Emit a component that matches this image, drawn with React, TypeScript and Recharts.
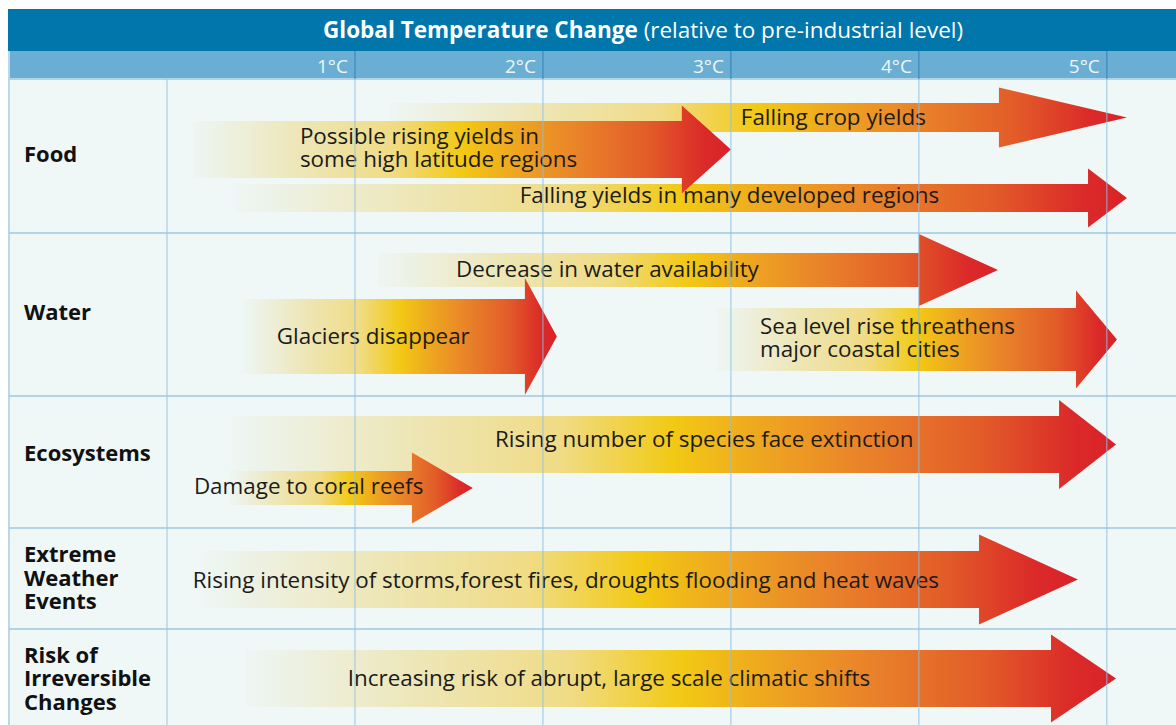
import React from 'react';
import { ComposedChart, XAxis, YAxis, ReferenceArea, ReferenceLine } from 'recharts';

const PAGE_W = 1176;
const PAGE_H = 725;
const OFFSET = 8;
const W = 1168;
const H = 717;
const DARK_TOP = 1;
const DARK_H = 42;
const BAND_H = 28;
const PLOT_TOP = DARK_TOP + DARK_H + BAND_H;
const LABEL_COL = 159;
const FONT = '"Open Sans", "Noto Sans", sans-serif';

// temperature axis (°C relative to pre-industrial)
const tempDomain: [number, number] = [0, 5.368];
const degreeTicks = [1, 2, 3, 4, 5];
const degreeLabels = ['1°C', '2°C', '3°C', '4°C', '5°C'];
const gridTemps = [0, 1, 2, 3, 4, 5];

// vertical lane axis (lane units from the top of the table body)
const laneDomain: [number, number] = [0, 646];
const rowNames = [
  ['Food'],
  ['Water'],
  ['Ecosystems'],
  ['Extreme', 'Weather', 'Events'],
  ['Risk of', 'Irreversible', 'Changes'],
];
const rowLabelLane = [76.5, 235, 376, 500.5, 601];
const rowBoundaryLane = [0, 154, 317, 449, 550];

// impact arrows, in drawing order
const impactText = [
  ['Falling crop yields'],
  ['Falling yields in many developed regions'],
  ['Possible rising yields in', 'some high latitude regions'],
  ['Decrease in water availability'],
  ['Glaciers disappear'],
  ['Sea level rise threathens', 'major coastal cities'],
  ['Rising number of species face extinction'],
  ['Damage to coral reefs'],
  ['Rising intensity of storms,forest fires, droughts flooding and heat waves'],
  ['Increasing risk of abrupt, large scale climatic shifts'],
];
const impactFrom = [1.191, 0.366, 0.138, 1.122, 0.404, 2.926, 0.345, 0.329, 0.196, 0.425];
const impactHeadAt = [4.426, 4.9, 2.739, 4.0, 1.904, 4.836, 4.746, 1.303, 4.32, 4.703];
const impactTo = [5.107, 5.107, 3.0, 4.421, 2.074, 5.054, 5.049, 1.627, 4.846, 5.049];
const impactTextAt = [3.053, 1.877, 0.707, 1.537, 0.584, 3.155, 1.745, 0.143, 0.137, 0.962];
const impactTextLane = [46, 124, 65, 198, 265, 255, 368, 415, 508.5, 606.5];
const impactLane = [38.5, 119, 70.5, 191, 257.5, 260.5, 365.5, 409, 500.5, 599.5];
const impactBody = [29, 28, 57, 34, 75, 63, 57, 34, 57, 57];
const impactHead = [60, 59, 88, 72, 117, 98, 89, 71, 90, 88];

const impactRows = impactText.map((_, i) => ({ from: impactFrom[i], to: impactTo[i], lane: impactLane[i] }));

const yTicks = [...rowBoundaryLane, ...rowLabelLane].sort((a, b) => a - b);

const ROW_LINE = '#b3d3e7';
const GRID_LINE = '#8fbfe0';
const LINE_GAP = 23;

const arrowShape = (i: number) => (p: any) => {
  const { x, y, width, height } = p;
  const span = impactTo[i] - impactFrom[i];
  const hx = x + (width * (impactHeadAt[i] - impactFrom[i])) / span;
  const cy = y + height / 2;
  const bh = (height * impactBody[i]) / impactHead[i];
  const pts = [
    [x, cy - bh / 2],
    [hx, cy - bh / 2],
    [hx, y],
    [x + width, cy],
    [hx, y + height],
    [hx, cy + bh / 2],
    [x, cy + bh / 2],
  ]
    .map((q) => q.join(','))
    .join(' ');
  return <polygon points={pts} fill="url(#heatGradient)" />;
};

const textShape = (i: number) => (p: any) => {
  const { x, y, width, height } = p;
  const span = impactTo[i] - impactFrom[i];
  const tx = x + (width * (impactTextAt[i] - impactFrom[i])) / span;
  const top = impactLane[i] - impactHead[i] / 2;
  const ty = y + ((impactTextLane[i] - top) * height) / impactHead[i];
  const lines = impactText[i];
  return (
    <text fontFamily={FONT} fontSize={22.4} fill="#1b1b1b">
      {lines.map((l, k) => (
        <tspan key={k} x={tx} y={ty + k * LINE_GAP}>
          {l}
        </tspan>
      ))}
    </text>
  );
};

const DegreeTick = (p: any) => {
  const { x, y, index } = p;
  return (
    <g>
      <line x1={x} x2={x} y1={y - BAND_H} y2={y} stroke="#3f87bd" strokeWidth={1.2} />
      <text x={x - 7} y={y - 6} textAnchor="end" fontFamily={FONT} fontSize={19} fill="#eef6fb">
        {degreeLabels[index]}
      </text>
    </g>
  );
};

const RowTick = (p: any) => {
  const { x, y, payload } = p;
  const v = payload.value;
  const b = rowBoundaryLane.indexOf(v);
  if (b >= 0) {
    return <line x1={x - LABEL_COL} x2={x} y1={y} y2={y} stroke={ROW_LINE} strokeWidth={2} />;
  }
  const r = rowLabelLane.indexOf(v);
  const lines = rowNames[r] || [];
  const lh = 23.5;
  const first = y - ((lines.length - 1) * lh) / 2 + 6;
  return (
    <text fontFamily={FONT} fontSize={22} fontWeight={700} fill="#111">
      {lines.map((l, k) => (
        <tspan key={k} x={x - LABEL_COL + 16} y={first + k * lh}>
          {l}
        </tspan>
      ))}
    </text>
  );
};

export default function App() {
  return (
    <div style={{ position: 'relative', width: PAGE_W, height: PAGE_H, overflow: 'hidden', background: '#ffffff' }}>
      <style>{'html,body{margin:0;padding:0;overflow:hidden;}'}</style>
      <div style={{ position: 'absolute', left: OFFSET, top: OFFSET, width: W, height: H }}>
        <svg width={W} height={H} style={{ position: 'absolute', left: 0, top: 0 }}>
          <rect x={0} y={DARK_TOP} width={W} height={DARK_H} fill="#0076ab" />
          <rect x={0} y={DARK_TOP + DARK_H} width={W} height={BAND_H} fill="#6aaed4" />
          <rect x={0} y={PLOT_TOP} width={W} height={H - PLOT_TOP} fill="#eff7f7" />
          <line x1={1} x2={1} y1={DARK_TOP + DARK_H} y2={H} stroke="#b9d9eb" strokeWidth={2} />
          <text x={315} y={30} fontFamily={FONT} fontSize={22.5} fill="#ffffff">
            <tspan fontWeight={700}>Global Temperature Change</tspan>
            <tspan> (relative to pre-industrial level)</tspan>
          </text>
        </svg>
        <div style={{ position: 'absolute', left: 0, top: 0 }}>
          <ComposedChart width={W} height={H} data={impactRows} margin={{ top: DARK_TOP + DARK_H, right: 0, bottom: 0, left: 0 }}>
            <defs>
              <linearGradient id="heatGradient" x1="0" y1="0" x2="1" y2="0">
                <stop offset="0" stopColor="#eef6f3" />
                <stop offset="0.06" stopColor="#edf1e2" />
                <stop offset="0.2" stopColor="#ede6b6" />
                <stop offset="0.37" stopColor="#f0dc86" />
                <stop offset="0.5" stopColor="#f2c914" />
                <stop offset="0.6" stopColor="#eea620" />
                <stop offset="0.72" stopColor="#e9812a" />
                <stop offset="0.85" stopColor="#e25b28" />
                <stop offset="0.95" stopColor="#db2a29" />
                <stop offset="1" stopColor="#da2229" />
              </linearGradient>
            </defs>
            <XAxis
              xAxisId={0}
              dataKey="to"
              type="number"
              orientation="top"
              domain={tempDomain}
              allowDataOverflow
              ticks={degreeTicks}
              interval={0}
              height={BAND_H}
              tickSize={0}
              tickMargin={0}
              axisLine={false}
              tickLine={false}
              tick={<DegreeTick />}
            />
            <YAxis
              yAxisId={0}
              dataKey="lane"
              type="number"
              domain={laneDomain}
              allowDataOverflow
              reversed
              width={LABEL_COL}
              ticks={yTicks}
              interval={0}
              tickSize={0}
              tickMargin={0}
              axisLine={false}
              tickLine={false}
              tick={<RowTick />}
            />
            {rowBoundaryLane.map((b) => (
              <ReferenceLine key={'r' + b} y={b} stroke={ROW_LINE} strokeWidth={2} />
            ))}
            {impactText.map((_, i) => (
              <ReferenceArea
                key={'a' + i}
                x1={impactFrom[i]}
                x2={impactTo[i]}
                y1={impactLane[i] - impactHead[i] / 2}
                y2={impactLane[i] + impactHead[i] / 2}
                ifOverflow="visible"
                shape={arrowShape(i)}
              />
            ))}
            {gridTemps.map((t) => (
              <ReferenceLine key={'g' + t} x={t} stroke={GRID_LINE} strokeOpacity={0.75} strokeWidth={1.2} />
            ))}
            {impactText.map((_, i) => (
              <ReferenceArea
                key={'t' + i}
                x1={impactFrom[i]}
                x2={impactTo[i]}
                y1={impactLane[i] - impactHead[i] / 2}
                y2={impactLane[i] + impactHead[i] / 2}
                ifOverflow="visible"
                shape={textShape(i)}
              />
            ))}
          </ComposedChart>
        </div>
      </div>
    </div>
  );
}
